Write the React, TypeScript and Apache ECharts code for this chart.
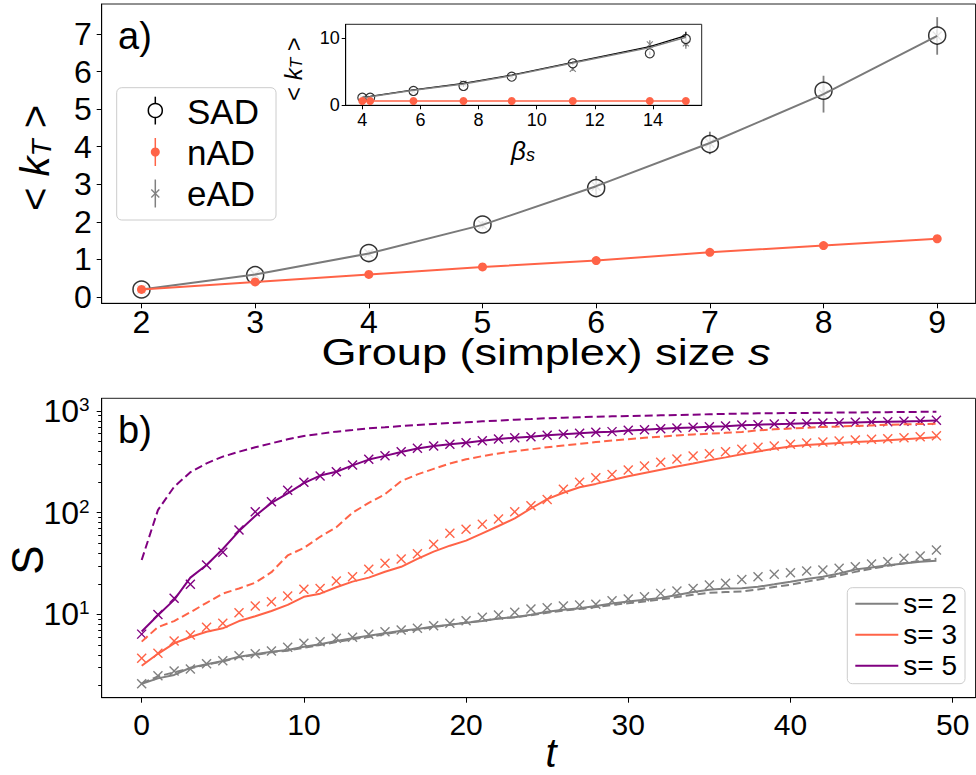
import React, { useEffect, useRef } from "react";
import * as echarts from "echarts";

const FONT = '"Liberation Sans", Arial, Helvetica, sans-serif';
const GRAY = "#808080";
const LINEGRAY = "#7a7a7a";
const TOMATO = "#ff6347";
const PURPLE = "#800080";

// ---------- panel a) ----------
const groupSizes = [2, 3, 4, 5, 6, 7, 8, 9];
const sadMean = [0.2, 0.58, 1.17, 1.93, 2.9, 4.07, 5.49, 6.96];
const sadErr = [0.02, 0.03, 0.05, 0.06, 0.08, 0.1, 0.12, 0.15];
const nadMean = [0.2, 0.4, 0.6, 0.8, 0.97, 1.19, 1.37, 1.55];
const nadErr = [0.01, 0.01, 0.02, 0.02, 0.02, 0.03, 0.03, 0.03];
const eadMean = [0.2, 0.6, 1.16, 1.92, 2.95, 4.1, 5.4, 6.95];
const eadErr = [0.02, 0.05, 0.08, 0.1, 0.27, 0.3, 0.49, 0.5];
const groupTicks = [2, 3, 4, 5, 6, 7, 8, 9];
const ktTicks = [0, 1, 2, 3, 4, 5, 6, 7];

// ---------- inset ----------
const betaS = [4.0, 4.27, 5.76, 7.48, 9.14, 11.24, 13.89, 15.13];
const insetSad = [1.1, 1.1, 2.1, 2.85, 4.24, 6.25, 7.75, 9.9];
const insetSadErr = [0.1, 0.1, 0.1, 0.15, 0.2, 0.3, 0.3, 1.1];
const insetEad = [1.15, 1.15, 2.05, 3.2, 4.2, 5.4, 9.1, 9.25];
const insetEadErr = [0.1, 0.1, 0.1, 0.15, 0.2, 0.3, 0.6, 0.8];
const insetNad = [0.6, 0.6, 0.6, 0.6, 0.6, 0.6, 0.6, 0.6];
const insetSadLine = [1.15, 1.3, 2.25, 3.25, 4.5, 6.4, 8.75, 10.4];
const insetEadLine = [1.1, 1.25, 2.2, 3.15, 4.4, 6.3, 8.6, 10.15];
const betaTicks = [4, 6, 8, 10, 12, 14];
const insetKtTicks = [0, 10];

// ---------- panel b) ----------
const tValues = [
  0, 1, 2, 3, 4, 5, 6, 7, 8, 9, 10, 11, 12, 13, 14, 15, 16, 17, 18, 19, 20, 21, 22, 23, 24,
  25, 26, 27, 28, 29, 30, 31, 32, 33, 34, 35, 36, 37, 38, 39, 40, 41, 42, 43, 44, 45, 46, 47, 48, 49,
];
const s2Solid = [
  2.08, 2.35, 2.54, 2.99, 3.23, 3.49, 3.84, 4.05, 4.3, 4.47,
  4.81, 5.1, 5.47, 5.82, 6.18, 6.53, 6.9, 7.2, 7.6, 7.9,
  8.3, 8.6, 9.1, 9.4, 9.9, 10.6, 11.1, 11.5, 12.1, 12.8,
  13.4, 13.9, 14.5, 15.5, 16.6, 17.5, 18.0, 18.1, 18.7, 19.8,
  21.0, 22.3, 23.5, 25.3, 27.6, 29.0, 30.4, 31.7, 33.0, 33.7,
];
const s2Dashed = [
  2.1, 2.45, 2.7, 2.95, 3.2, 3.45, 3.8, 4.0, 4.25, 4.4,
  4.7, 5.0, 5.35, 5.7, 6.0, 6.4, 6.8, 7.1, 7.5, 7.9,
  8.3, 8.7, 9.1, 9.4, 9.8, 10.4, 10.9, 11.3, 11.8, 12.4,
  12.9, 13.4, 14.0, 14.8, 15.6, 16.3, 16.6, 16.8, 17.6, 18.6,
  19.6, 21.0, 22.4, 24.2, 26.2, 28.2, 30.0, 31.8, 33.6, 35.2,
];
const s2Marks = [
  2.08, 2.49, 2.78, 2.9, 3.27, 3.51, 3.93, 4.11, 4.37, 4.75,
  5.2, 5.39, 5.82, 5.96, 6.37, 6.76, 7.03, 7.3, 7.74, 8.17,
  8.67, 9.36, 9.86, 10.5, 11.3, 11.6, 12.1, 12.4, 12.6, 13.6,
  14.2, 14.9, 16.1, 17.0, 18.0, 19.5, 20.2, 22.0, 23.5, 24.8,
  25.7, 26.7, 27.3, 28.4, 29.4, 31.3, 33.0, 35.6, 37.5, 43.0,
];
const s3Solid = [
  3.13, 4.1, 5.2, 6.0, 6.76, 7.3, 8.6, 9.6, 10.8, 12.4,
  14.9, 16.0, 18.5, 21.0, 23.0, 26.3, 29.4, 35.1, 41.4, 47.4,
  53.1, 62.7, 74, 88, 110, 136, 157, 178, 192, 210,
  228, 246, 265, 285, 305, 328, 350, 375, 400, 425,
  448, 462, 473, 484, 496, 505, 516, 528, 540, 551,
];
const s3Dashed = [
  5.4, 7.5, 8.6, 10.5, 13.0, 16.0, 18.0, 20.5, 26.0, 38.0,
  45, 58, 72, 100, 125, 152, 205, 238, 270, 305,
  335, 360, 383, 402, 420, 440, 458, 475, 495, 512,
  528, 545, 560, 575, 588, 598, 610, 622, 645, 660,
  672, 684, 697, 705, 714, 722, 732, 740, 745, 750,
];
const s3Marks = [
  3.7, 4.14, 5.47, 6.27, 7.46, 8.17, 10.4, 12.1, 13.3, 15.2,
  17.7, 18.0, 21.3, 23.5, 27.8, 31.8, 35.1, 39.5, 48.9, 62.7,
  68.7, 76.9, 86.7, 102, 117, 135, 170, 199, 221, 238,
  263, 288, 313, 337, 361, 380, 398, 421, 440, 453,
  470, 485, 496, 507, 519, 527, 534, 547, 559, 571,
];
const s5Solid = [
  6.8, 9.8, 13.9, 23, 30.6, 44, 66, 93, 125, 155,
  195, 232, 253, 292, 333, 362, 396, 428, 452, 470,
  488, 510, 530, 547, 559, 577, 590, 604, 617, 627,
  645, 655, 668, 680, 690, 700, 710, 726, 733, 743,
  749, 756, 761, 766, 772, 778, 784, 790, 796, 805,
];
const s5Dashed = [
  34.3, 106, 180, 250, 306, 356, 398, 440, 481, 527,
  568, 597, 627, 650, 676, 691, 711, 728, 745, 762,
  774, 792, 803, 821, 834, 850, 860, 870, 878, 886,
  893, 900, 907, 914, 921, 929, 937, 944, 948, 952,
  955, 958, 962, 965, 968, 971, 975, 978, 981, 984,
];
const s5Marks = [
  6.4, 10.0, 14.4, 19.8, 30.6, 40.8, 67.6, 102, 128, 166,
  199, 230, 253, 294, 335, 364, 398, 430, 453, 470,
  488, 511, 530, 547, 559, 577, 590, 604, 617, 627,
  646, 655, 670, 681, 691, 701, 711, 728, 733, 745,
  750, 757, 762, 767, 774, 780, 785, 792, 798, 810,
];
const timeTicks = [0, 10, 20, 30, 40, 50];
const sizeDecades = [1, 2, 3];
const minorSizeTicks = [2, 3, 4, 5, 6, 7, 8, 9, 20, 30, 40, 50, 60, 70, 80, 90, 200, 300, 400, 500, 600, 700, 800, 900];
const legendNames = ["s= 2", "s= 3", "s= 5"];

// ---------- helpers ----------
const pairs = (xs: number[], ys: number[]) => xs.map((x, i) => [x, ys[i]]);
const logPairs = (ys: number[]) => tValues.map((t, i) => [t, Math.log10(ys[i])]);

function axisStyle(fontSize: number, margin: number, tickLen: number, ticks: number[]) {
  return {
    axisLine: { show: true, onZero: false, lineStyle: { color: "#000", width: 1 } },
    axisTick: { show: true, length: tickLen, customValues: ticks, lineStyle: { color: "#000", width: 1 } },
    axisLabel: { show: true, customValues: ticks, fontSize, fontFamily: FONT, color: "#000", margin },
    splitLine: { show: false },
  };
}

function errorBars(xs: number[], ys: number[], errs: number[], color: string, axis: number, lw: number) {
  return {
    type: "custom",
    xAxisIndex: axis,
    yAxisIndex: axis,
    silent: true,
    data: xs.map((x, i) => [x, ys[i] - errs[i], ys[i] + errs[i]]),
    encode: { x: 0, y: [1, 2] },
    renderItem: (_p: any, api: any) => {
      const lo = api.coord([api.value(0), api.value(1)]);
      const hi = api.coord([api.value(0), api.value(2)]);
      return {
        type: "line",
        shape: { x1: lo[0], y1: lo[1], x2: hi[0], y2: hi[1] },
        style: { stroke: color, lineWidth: lw },
      };
    },
  };
}

function crosses(data: number[][], color: string, xAxis: number, yAxis: number, half: number, lw: number) {
  return {
    type: "custom",
    xAxisIndex: xAxis,
    yAxisIndex: yAxis,
    silent: true,
    data,
    encode: { x: 0, y: 1 },
    renderItem: (_p: any, api: any) => {
      const p = api.coord([api.value(0), api.value(1)]);
      return {
        type: "group",
        children: [
          { type: "line", shape: { x1: p[0] - half, y1: p[1] - half, x2: p[0] + half, y2: p[1] + half }, style: { stroke: color, lineWidth: lw } },
          { type: "line", shape: { x1: p[0] - half, y1: p[1] + half, x2: p[0] + half, y2: p[1] - half }, style: { stroke: color, lineWidth: lw } },
        ],
      };
    },
  };
}

function lineSeries(name: string, data: number[][], color: string, axis: number, width: number, dashed: boolean) {
  return {
    type: "line",
    name,
    xAxisIndex: axis,
    yAxisIndex: axis,
    data,
    symbol: "none",
    silent: true,
    lineStyle: { color, width, type: dashed ? [8, 4] : "solid" },
    itemStyle: { color },
  };
}

function txt(x: number, y: number, text: string, fontSize: number, extra: any = {}, rich: any = undefined) {
  return {
    type: "text",
    x,
    y,
    silent: true,
    ...extra,
    style: {
      text,
      fontSize,
      fontFamily: FONT,
      fill: "#000",
      align: extra.align || "center",
      verticalAlign: "middle",
      rich,
    },
  };
}

function buildOption() {
  const kRich = (fs: number) => ({
    k: { fontSize: fs, fontStyle: "italic", fontFamily: FONT, fill: "#000", color: "#000" },
    T: { fontSize: Math.round(fs * 0.7), fontStyle: "italic", fontFamily: FONT, fill: "#000", color: "#000", verticalAlign: "bottom" },
  });

  const series: any[] = [
    // panel a
    lineSeries("eAD line", pairs(groupSizes, eadMean), LINEGRAY, 0, 2, false),
    {
      type: "line",
      name: "nAD",
      xAxisIndex: 0,
      yAxisIndex: 0,
      data: pairs(groupSizes, nadMean),
      symbol: "circle",
      symbolSize: 9,
      silent: true,
      lineStyle: { color: TOMATO, width: 2 },
      itemStyle: { color: TOMATO },
    },
    errorBars(groupSizes, nadMean, nadErr, TOMATO, 0, 1.5),
    errorBars(groupSizes, sadMean, sadErr, "#000", 0, 1.5),
    {
      type: "scatter",
      name: "SAD",
      xAxisIndex: 0,
      yAxisIndex: 0,
      data: pairs(groupSizes, sadMean),
      symbol: "circle",
      symbolSize: 17,
      silent: true,
      itemStyle: { color: "#fff", borderColor: "#000", borderWidth: 1.5 },
    },
    errorBars(groupSizes, eadMean, eadErr, GRAY, 0, 1.8),
    crosses(pairs(groupSizes, eadMean), GRAY, 0, 0, 4.5, 1.3),

    // inset
    lineSeries("inset SAD line", pairs(betaS, insetSadLine), "#000", 1, 1.2, false),
    lineSeries("inset eAD line", pairs(betaS, insetEadLine), GRAY, 1, 1.5, false),
    {
      type: "line",
      name: "inset nAD",
      xAxisIndex: 1,
      yAxisIndex: 1,
      data: pairs(betaS, insetNad),
      symbol: "circle",
      symbolSize: 8,
      silent: true,
      lineStyle: { color: TOMATO, width: 1.5 },
      itemStyle: { color: TOMATO },
    },
    errorBars(betaS, insetSad, insetSadErr, "#000", 1, 1.3),
    {
      type: "scatter",
      name: "inset SAD",
      xAxisIndex: 1,
      yAxisIndex: 1,
      data: pairs(betaS, insetSad),
      symbol: "circle",
      symbolSize: 9,
      silent: true,
      itemStyle: { color: "#fff", borderColor: "#000", borderWidth: 1.2 },
    },
    errorBars(betaS, insetEad, insetEadErr, GRAY, 1, 1.3),
    crosses(pairs(betaS, insetEad), GRAY, 1, 1, 3, 1.1),

    // panel b
    lineSeries("s2 dashed", logPairs(s2Dashed), GRAY, 2, 2, true),
    lineSeries("s3 dashed", logPairs(s3Dashed), TOMATO, 2, 2, true),
    lineSeries("s5 dashed", logPairs(s5Dashed), PURPLE, 2, 2, true),
    lineSeries(legendNames[0], logPairs(s2Solid), GRAY, 2, 2, false),
    lineSeries(legendNames[1], logPairs(s3Solid), TOMATO, 2, 2, false),
    lineSeries(legendNames[2], logPairs(s5Solid), PURPLE, 2, 2, false),
    crosses(logPairs(s2Marks), GRAY, 2, 2, 4.5, 1.4),
    crosses(logPairs(s3Marks), TOMATO, 2, 2, 4.5, 1.4),
    crosses(logPairs(s5Marks), PURPLE, 2, 2, 4.5, 1.4),
  ];

  const graphic: any[] = [
    // panel labels
    txt(118, 36, "a)", 38, { align: "left" }),
    txt(118, 430, "b)", 38, { align: "left" }),
    // main y label
    txt(35, 158, "< {k|k}{T|T} >", 40, { rotation: Math.PI / 2 }, kRich(40)),
    // inset y label
    txt(293, 69, "< {k|k}{T|T} >", 24, { rotation: Math.PI / 2 }, kRich(24)),
    // inset x label
    txt(523, 151, "{b|β}{s|s}", 26, {}, {
      b: { fontSize: 26, fontStyle: "italic", fontFamily: FONT, fill: "#000" },
      s: { fontSize: 18, fontStyle: "italic", fontFamily: FONT, fill: "#000", verticalAlign: "bottom" },
    }),
    // main x label
    txt(546, 352, "Group (simplex) size {i|s}", 37, { scaleX: 1.22 }, {
      i: { fontSize: 37, fontStyle: "italic", fontFamily: FONT, fill: "#000" },
    }),
    // panel b labels
    txt(551, 753, "{i|t}", 40, {}, { i: { fontSize: 40, fontStyle: "italic", fontFamily: FONT, fill: "#000" } }),
    txt(27, 560, "S", 44, { rotation: Math.PI / 2 }),
    // top legend
    {
      type: "rect",
      silent: true,
      shape: { x: 116.7, y: 87.7, width: 159.3, height: 132.3, r: 5 },
      style: { fill: "rgba(255,255,255,0.8)", stroke: "#cccccc", lineWidth: 1 },
    },
    { type: "line", silent: true, shape: { x1: 155.3, y1: 96.7, x2: 155.3, y2: 124.5 }, style: { stroke: "#000", lineWidth: 1.5 } },
    { type: "circle", silent: true, shape: { cx: 155.3, cy: 110.5, r: 7 }, style: { fill: "#fff", stroke: "#000", lineWidth: 1.5 } },
    { type: "line", silent: true, shape: { x1: 155.3, y1: 138, x2: 155.3, y2: 166 }, style: { stroke: TOMATO, lineWidth: 1.5 } },
    { type: "circle", silent: true, shape: { cx: 155.3, cy: 152, r: 4.5 }, style: { fill: TOMATO, stroke: TOMATO, lineWidth: 0 } },
    { type: "line", silent: true, shape: { x1: 155.3, y1: 179.5, x2: 155.3, y2: 207.5 }, style: { stroke: GRAY, lineWidth: 1.5 } },
    { type: "line", silent: true, shape: { x1: 151.3, y1: 189.5, x2: 159.3, y2: 197.5 }, style: { stroke: GRAY, lineWidth: 1.3 } },
    { type: "line", silent: true, shape: { x1: 151.3, y1: 197.5, x2: 159.3, y2: 189.5 }, style: { stroke: GRAY, lineWidth: 1.3 } },
    txt(187, 111, "SAD", 35, { align: "left" }),
    txt(187, 152, "nAD", 35, { align: "left" }),
    txt(187, 193, "eAD", 35, { align: "left" }),
  ];

  return {
    animation: false,
    backgroundColor: "#fff",
    grid: [
      { left: 101.7, top: 4, width: 873.8, height: 299.3, show: true, borderColor: "#222", borderWidth: 1, backgroundColor: "transparent" },
      { left: 345.7, top: 24.3, width: 356, height: 81, show: true, borderColor: "#222", borderWidth: 1, backgroundColor: "#fff" },
      { left: 101.7, top: 398.3, width: 873.8, height: 299.4, show: true, borderColor: "#222", borderWidth: 1, backgroundColor: "transparent" },
    ],
    xAxis: [
      { type: "value", gridIndex: 0, min: 1.65, max: 9.337, ...axisStyle(32, 3, 5, groupTicks) },
      { type: "value", gridIndex: 1, min: 3.429, max: 15.675, ...axisStyle(18, 6, 4, betaTicks) },
      { type: "value", gridIndex: 2, min: -2.466, max: 51.41, ...axisStyle(30, 12, 5, timeTicks) },
    ],
    yAxis: [
      { type: "value", gridIndex: 0, min: -0.168, max: 7.8, ...axisStyle(32, 10, 5, ktTicks) },
      { type: "value", gridIndex: 1, min: -0.05, max: 12.1, ...axisStyle(18, 6, 4, insetKtTicks) },
      (() => {
        const st: any = axisStyle(32, 12, 5, sizeDecades);
        st.axisLabel.formatter = (v: number) => "10{sup|" + Math.round(v) + "}";
        st.axisLabel.rich = { sup: { fontSize: 19, fontFamily: FONT, color: "#000", verticalAlign: "top" } };
        return { type: "value", gridIndex: 2, min: 0.181, max: 3.125, ...st };
      })(),
      {
        type: "value",
        gridIndex: 2,
        position: "left",
        min: 0.181,
        max: 3.125,
        axisLine: { show: false, onZero: false },
        axisLabel: { show: false },
        splitLine: { show: false },
        axisTick: {
          show: true,
          length: 3.5,
          customValues: minorSizeTicks.map((v) => Math.log10(v)),
          lineStyle: { color: "#000", width: 1 },
        },
      },
    ],
    legend: {
      data: legendNames,
      orient: "vertical",
      left: 847.3,
      top: 587.7,
      icon: "rect",
      itemWidth: 43,
      itemHeight: 2,
      itemGap: 3,
      selectedMode: false,
      padding: [2, 8, 4, 8],
      backgroundColor: "rgba(255,255,255,0.8)",
      borderColor: "#cccccc",
      borderWidth: 1,
      borderRadius: 5,
      textStyle: { fontSize: 28, fontFamily: FONT, color: "#000" },
    },
    graphic,
    series,
  };
}

export default function App() {
  const ref = useRef<HTMLDivElement>(null);
  useEffect(() => {
    if (!ref.current) return;
    const chart = echarts.init(ref.current, undefined, { renderer: "svg" });
    chart.setOption(buildOption() as any);
    return () => chart.dispose();
  }, []);
  return (
    <div
      ref={ref}
      style={{ position: "absolute", left: 0, top: 0, width: 976, height: 775, background: "#fff" }}
    />
  );
}
